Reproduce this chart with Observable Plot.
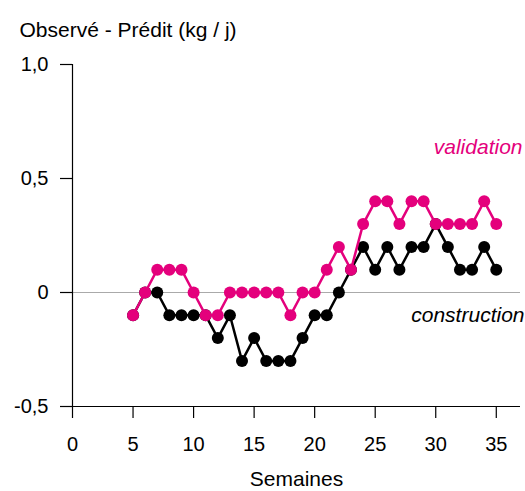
<!DOCTYPE html>
<html><head><meta charset="utf-8">
<script src="https://cdn.jsdelivr.net/npm/d3@7"></script>
<script src="https://cdn.jsdelivr.net/npm/@observablehq/plot@0.6"></script>
<style>
body{margin:0;background:#fff;font-family:"Liberation Sans",Arial,sans-serif;}
#wrap{position:relative;width:525px;height:491px;overflow:hidden;background:#fff;}
#chart{position:absolute;left:0;top:0;}
#title{position:absolute;left:15px;top:-19px;font-size:20px;line-height:24px;white-space:nowrap;color:#000;z-index:2;}
</style></head><body>
<div id="wrap"><div id="chart"></div><div id="title">Écarts des lots de construction et de validation</div></div>
<script>
const weeks = [5,6,7,8,9,10,11,12,13,14,15,16,17,18,19,20,21,22,23,24,25,26,27,28,29,30,31,32,33,34,35];
const construction = [-0.1,0,0,-0.1,-0.1,-0.1,-0.1,-0.2,-0.1,-0.3,-0.2,-0.3,-0.3,-0.3,-0.2,-0.1,-0.1,0,0.1,0.2,0.1,0.2,0.1,0.2,0.2,0.3,0.2,0.1,0.1,0.2,0.1];
const validation = [-0.1,0,0.1,0.1,0.1,0,-0.1,-0.1,0,0,0,0,0,-0.1,0,0,0.1,0.2,0.1,0.3,0.4,0.4,0.3,0.4,0.4,0.3,0.3,0.3,0.3,0.4,0.3];
const xTicks = [0,5,10,15,20,25,30,35];
const yTicks = [-0.5,0,0.5,1];
const seriesNames = ["construction","validation"];
const seriesColors = ["#000000","#e4007c"];
const yLabel = "Observé - Prédit (kg / j)";
const xLabel = "Semaines";

const rows = [];
seriesNames.forEach((s,k)=>{
  const vals = k===0 ? construction : validation;
  weeks.forEach((w,i)=>rows.push({series:s, week:w, value:vals[i]}));
});
const cons = rows.filter(d=>d.series==="construction");
const vali = rows.filter(d=>d.series==="validation");
const fmt = d => d===0 ? "0" : d.toFixed(1).replace(".", ",");
const font = "'Liberation Sans', Arial, sans-serif";

const chart = Plot.plot({
  width:525, height:491,
  marginLeft:72, marginRight:5, marginTop:64, marginBottom:85,
  x:{domain:[0,37]},
  y:{domain:[-0.5,1]},
  style:{fontFamily:font, fontSize:"20px", color:"#000", background:"white", overflow:"visible"},
  marks:[
    Plot.ruleY([0],{stroke:"#aaaaaa",strokeWidth:1}),
    Plot.ruleX([0],{stroke:"#000",strokeWidth:1.2}),
    Plot.ruleY([-0.5],{stroke:"#000",strokeWidth:1.2}),
    Plot.axisY({ticks:yTicks, tickSize:12, tickPadding:12, tickFormat:fmt, label:null, fontSize:20, strokeWidth:1.2}),
    Plot.axisX({ticks:xTicks, tickSize:12, tickPadding:18, label:null, fontSize:20, strokeWidth:1.2}),
    Plot.line(cons,{x:"week",y:"value",stroke:seriesColors[0],strokeWidth:2.5}),
    Plot.dot(cons,{x:"week",y:"value",r:6,fill:seriesColors[0]}),
    Plot.line(vali,{x:"week",y:"value",stroke:seriesColors[1],strokeWidth:2.5}),
    Plot.dot(vali,{x:"week",y:"value",r:6,fill:seriesColors[1]}),
    Plot.text([yLabel],{frameAnchor:"top-left",textAnchor:"start",lineAnchor:"top",dx:-53,dy:-42,fontSize:21,fill:"#000"}),
    Plot.text([xLabel],{frameAnchor:"bottom",lineAnchor:"top",dy:65,fontSize:21,fill:"#000"}),
    Plot.text([seriesNames[1]],{frameAnchor:"top-right",textAnchor:"end",lineAnchor:"top",dx:2,dy:75,fontSize:21,fontStyle:"italic",fill:seriesColors[1]}),
    Plot.text([seriesNames[0]],{frameAnchor:"top-right",textAnchor:"end",lineAnchor:"top",dx:4,dy:243,fontSize:21,fontStyle:"italic",fill:seriesColors[0]})
  ]
});
document.getElementById("chart").appendChild(chart);
</script>
</body></html>
